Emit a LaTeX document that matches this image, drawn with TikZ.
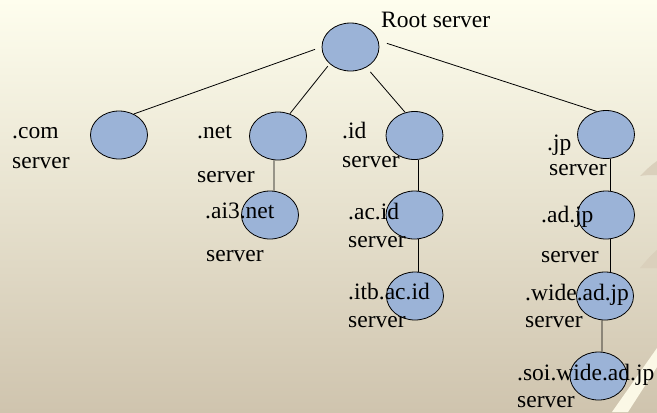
\documentclass[tikz,border=0pt]{standalone}
\usepackage{fontspec}
\setmainfont{Liberation Serif}
\usetikzlibrary{shapes.geometric}
\definecolor{bgtop}{HTML}{FEFEEE}
\definecolor{bgbottom}{HTML}{CFC4AE}
\definecolor{nodeblue}{HTML}{9BB3D7}
\definecolor{swirl}{HTML}{DAD0BC}
\definecolor{stripe}{HTML}{FBF8E6}
\begin{document}
\begin{tikzpicture}[x=1bp,y=-1bp,
  srv/.style={ellipse, draw=black, line width=0.8bp, fill=nodeblue,
              minimum width=57bp, minimum height=48bp, inner sep=0pt},
  lbl/.style={anchor=base west, inner sep=0pt,
              font=\fontsize{23.5bp}{28bp}\selectfont},
  link/.style={line width=0.8bp}]

% slide background
\useasboundingbox (0,0) rectangle (657,412);
\fill[top color=bgtop, bottom color=bgbottom] (0,0) rectangle (657,412);

% faint template ornaments on the right edge
\fill[swirl] (640,176) .. controls (646,170) and (651,165) .. (657,161) -- (657,175) .. controls (651,175) and (645,175) .. cycle;
\fill[swirl] (640,268) .. controls (646,261) and (651,255) .. (657,250) -- (657,268) -- cycle;
\fill[stripe] (657,348) -- (657,367) -- (628,412) -- (612,412) -- cycle;

% DNS servers
\node[srv] (root) at (350.5,47) {};
\node[srv] (com)  at (119,135) {};
\node[srv] (net)  at (278,136) {};
\node[srv] (id)   at (414.5,135.5) {};
\node[srv] (jp)   at (606,134.5) {};
\node[srv] (ai3)  at (270,215) {};
\node[srv] (ac)   at (414.5,215) {};
\node[srv] (itb)  at (415,296) {};
\node[srv] (ad)   at (606,215) {};
\node[srv] (wide) at (605,296) {};
\node[srv] (soi)  at (598.5,376) {};

% delegation links
\draw[link, shorten <=7bp] (root.west) -- (com.55);
\draw[link, shorten <=3bp] (root.219) -- (net.62);
\draw[link, shorten <=6bp] (root.308) -- (id.112);
\draw[link, shorten <=9bp] (root.13) -- (jp.112);
\draw[link] ([xshift=-4bp]net.south) -- ([xshift=4bp]ai3.north);
\draw[link] ([xshift=3.5bp]id.south) -- ([xshift=3.5bp]ac.north);
\draw[link] ([xshift=3.5bp]ac.south) -- ([xshift=3bp]itb.north);
\draw[link] ([xshift=4bp]jp.south) -- ([xshift=4bp]ad.north);
\draw[link] ([xshift=4bp]ad.south) -- ([xshift=5bp]wide.north);
\draw[link] ([xshift=-3bp]wide.south) -- ([xshift=3.5bp]soi.north);

% labels
\node[lbl] (troot) at (381,27) {Root server};
\node[lbl] (tcom1) at (12,138) {.com};
\node[lbl] (tcom2) at (12,168) {server};
\node[lbl] (tnet1) at (197,138) {.net};
\node[lbl] (tnet2) at (197,182) {server};
\node[lbl] (tai31) at (205,218) {.ai3.net};
\node[lbl] (tai32) at (206,261) {server};
\node[lbl] (tid1)  at (342,138) {.id};
\node[lbl] (tid2)  at (342,167) {server};
\node[lbl] (tac1)  at (348,219) {.ac.id};
\node[lbl] (tac2)  at (348,247) {server};
\node[lbl] (titb1) at (348,299) {.itb.ac.id};
\node[lbl] (titb2) at (348,327) {server};
\node[lbl] (tjp1)  at (547,150) {.jp};
\node[lbl] (tjp2)  at (549,175) {server};
\node[lbl] (tad1)  at (541,222) {.ad.jp};
\node[lbl] (tad2)  at (541,262) {server};
\node[lbl] (twid1) at (525,300) {.wide.ad.jp};
\node[lbl] (twid2) at (525,327) {server};
\node[lbl] (tsoi1) at (517,380) {.soi.wide.ad.jp};
\node[lbl] (tsoi2) at (517,407) {server};
\end{tikzpicture}
\end{document}
